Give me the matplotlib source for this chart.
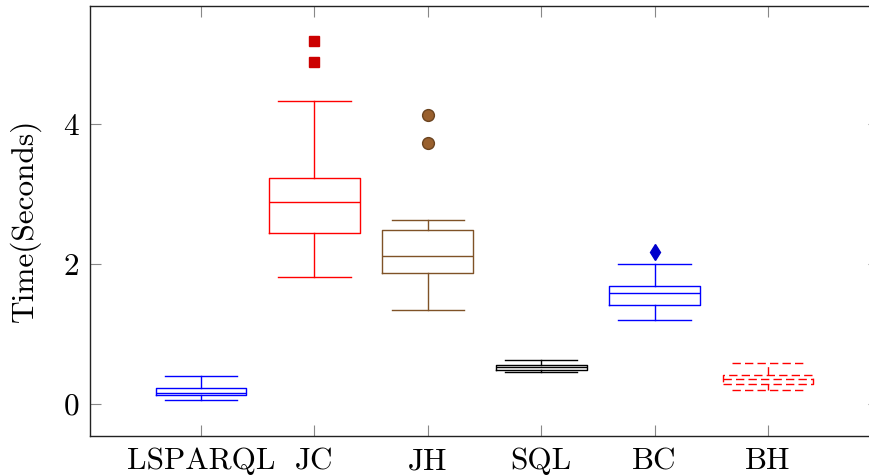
import matplotlib
matplotlib.use("Agg")
import matplotlib.pyplot as plt

plt.rcParams['font.family'] = ['cmr10', 'DejaVu Serif']
plt.rcParams['axes.formatter.use_mathtext'] = True

categories = ["LSPARQL", "JC", "JH", "SQL", "BC", "BH"]
whislo = [0.05, 1.81, 1.34, 0.45, 1.20, 0.20]
q1     = [0.12, 2.44, 1.87, 0.48, 1.41, 0.29]
med    = [0.15, 2.89, 2.11, 0.52, 1.59, 0.35]
q3     = [0.23, 3.23, 2.49, 0.55, 1.69, 0.41]
whishi = [0.40, 4.33, 2.62, 0.62, 2.00, 0.59]
fliers = [[], [5.18, 4.88], [4.13, 3.73], [], [2.17], []]
y_ticks = [0, 2, 4]

colors = ['#0000ff', '#ff0000', '#7f5227', '#000000', '#0000ff', '#ff0000']
styles = ['-', '-', '-', '-', '-', (0, (6, 3))]
flier_style = [
    None,
    dict(marker='s', markerfacecolor='#cc0000', markeredgecolor='#cc0000', markersize=7.5),
    dict(marker='o', markerfacecolor='#99602e', markeredgecolor='#6b4420', markersize=8.5),
    None,
    dict(marker='d', markerfacecolor='#0000cc', markeredgecolor='#0000cc', markersize=8),
    None,
]

fig = plt.figure(figsize=(8.69, 4.75), dpi=100)
ax = fig.add_axes([90/869, 39/475, 789/869, 430.5/475])

for i, name in enumerate(categories):
    stats = [dict(med=med[i], q1=q1[i], q3=q3[i], whislo=whislo[i],
                  whishi=whishi[i], fliers=fliers[i], label=name)]
    lp = dict(color=colors[i], linestyle=styles[i], linewidth=1.0)
    fp = flier_style[i] or dict(marker='')
    ax.bxp(stats, positions=[i + 1], widths=0.8, capwidths=0.64,
           boxprops=lp, whiskerprops=lp, capprops=lp, medianprops=lp,
           flierprops=fp, manage_ticks=False)

ax.set_xlim(0.02, 6.98)
ax.set_ylim(-0.46, 5.69)
ax.set_xticks(range(1, len(categories) + 1))
ax.set_xticklabels(categories)
ax.set_yticks(y_ticks)
ax.set_yticklabels([str(t) for t in y_ticks])
ax.tick_params(direction='in', length=8, width=0.8, color='#888888',
               top=True, right=True, labelsize=22.5, pad=8)
ax.set_ylabel("Time(Seconds)", fontsize=22.5, labelpad=16)
for s in ax.spines.values():
    s.set_color('#222222')
    s.set_linewidth(1.0)

fig.savefig("out.png", dpi=100)
